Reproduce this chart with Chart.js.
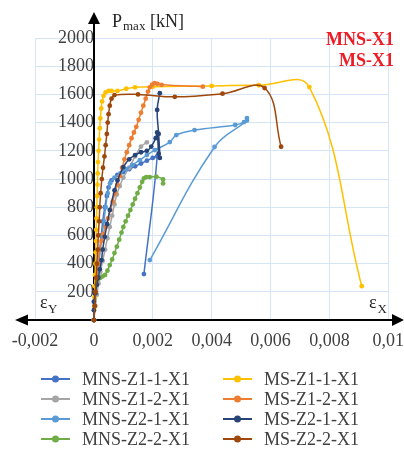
<!DOCTYPE html>
<html><head><meta charset="utf-8">
<script src="https://cdn.jsdelivr.net/npm/chart.js@4/dist/chart.umd.min.js"></script>
<style>html,body{margin:0;padding:0;background:#fff}canvas{display:block}</style>
</head><body>
<canvas id="c" width="404" height="449"></canvas>
<script>
// ---- data ----
const seriesNames = ['MNS-Z1-1-X1','MNS-Z1-2-X1','MNS-Z2-1-X1','MNS-Z2-2-X1','MS-Z1-1-X1','MS-Z1-2-X1','MS-Z2-1-X1','MS-Z2-2-X1'];

const mnsZ11X = [0,0.00003,0.00006,0.0001,0.00015,0.0002,0.00025,0.0003,0.00037,0.00044,0.0005,0.0006,0.0008,0.001,0.0012,0.0014,0.0016,0.0018,0.002,0.00215,0.0017];
const mnsZ11Y = [0,100,200,300,400,500,600,700,800,880,940,990,1030,1050,1070,1090,1110,1130,1150,1160,326];

const mnsZ12X = [0,0.00005,0.0001,0.00016,0.00022,0.0003,0.00038,0.00046,0.00054,0.00062,0.0007,0.00078,0.00088,0.001,0.0012,0.0014,0.0016,0.0018];
const mnsZ12Y = [0,100,180,260,340,420,500,580,660,740,820,890,950,1010,1080,1160,1230,1260];

const mnsZ21X = [0,0.00003,0.00007,0.00012,0.00017,0.00022,0.00028,0.00034,0.0004,0.00047,0.00055,0.0007,0.0009,0.0011,0.0013,0.00156,0.0018,0.00207,0.00258,0.0028,0.00342,0.0048,0.0051,0.0052,0.0052,0.0041,0.0019];
const mnsZ21Y = [0,100,200,300,400,500,600,700,800,900,970,1010,1040,1070,1100,1134,1170,1205,1262,1312,1347,1383,1404,1432,1415,1227,425];

const mnsZ22X = [0,0.00003,0.00006,0.0001,0.00016,0.00022,0.0003,0.00038,0.00046,0.00054,0.00062,0.0007,0.00078,0.00086,0.00094,0.001,0.00108,0.00116,0.00124,0.00132,0.0014,0.00148,0.00156,0.00164,0.0017,0.00178,0.0019,0.00212,0.00235,0.00235];
const mnsZ22Y = [0,100,200,280,295,300,310,320,350,390,430,475,520,570,620,660,700,740,780,820,860,900,940,980,1005,1014,1014,1016,998,969];

const msZ11X = [0,0.00001,0.00002,0.00003,0.00004,0.00005,0.00006,0.00007,0.00008,0.00009,0.0001,0.00011,0.00012,0.00013,0.00014,0.00016,0.00018,0.0002,0.00022,0.00025,0.00028,0.00033,0.0004,0.0005,0.0006,0.0008,0.0011,0.0014,0.002,0.004,0.0056,0.00732,0.0091];
const msZ11Y = [0,80,160,240,320,400,480,560,640,720,800,880,960,1040,1120,1200,1280,1360,1430,1500,1550,1590,1615,1625,1625,1625,1640,1650,1655,1660,1665,1652,240];

const msZ12X = [0,0.00003,0.00006,0.0001,0.00014,0.0002,0.00026,0.00032,0.0004,0.00048,0.00056,0.00064,0.00072,0.0008,0.00088,0.00096,0.00104,0.00112,0.0012,0.00128,0.00136,0.00144,0.00152,0.0016,0.00168,0.00176,0.00184,0.0019,0.00198,0.00206,0.00216,0.0023,0.0037];
const msZ12Y = [0,100,200,300,400,500,560,610,660,720,780,840,900,960,1020,1080,1140,1190,1240,1290,1330,1370,1420,1470,1520,1570,1620,1650,1670,1680,1675,1668,1655];

const msZ21X = [0,0,0,0.00005,0.0001,0.00015,0.0002,0.00026,0.0003,0.00037,0.00045,0.00054,0.0007,0.0008,0.001,0.0012,0.0014,0.0016,0.0018,0.00195,0.0021,0.00215,0.0022,0.00224,0.0022,0.00215,0.00224];
const msZ21Y = [0,70,130,190,250,300,360,425,500,590,680,780,920,990,1085,1140,1170,1190,1200,1230,1290,1330,1180,1150,1320,1490,1609];

const msZ22X = [0,0.00003,0.00005,0.00008,0.0001,0.00013,0.00015,0.00018,0.0002,0.00023,0.00027,0.00031,0.00036,0.0004,0.00044,0.00047,0.0005,0.00054,0.0006,0.0007,0.0015,0.00275,0.00437,0.0058,0.00636];
const msZ22Y = [0,100,200,300,400,500,600,700,800,900,1000,1080,1160,1240,1320,1400,1460,1520,1570,1595,1600,1583,1605,1645,1229];

const xTickValues = [-0.002,0,0.002,0.004,0.006,0.008,0.01];
const xTickLabels = ['-0,002','0','0,002','0,004','0,006','0,008','0,01'];
const yTickValues = [0,200,400,600,800,1000,1200,1400,1600,1800,2000];
const yTickLabels = ['','200','400','600','800','1000','1200','1400','1600','1800','2000'];

// ---- styles ----
const seriesColors = ['#4472C4','#A5A5A5','#5B9BD5','#70AD47','#FFC000','#ED7D31','#264478','#9E480E'];
const seriesX = [mnsZ11X,mnsZ12X,mnsZ21X,mnsZ22X,msZ11X,msZ12X,msZ21X,msZ22X];
const seriesY = [mnsZ11Y,mnsZ12Y,mnsZ21Y,mnsZ22Y,msZ11Y,msZ12Y,msZ21Y,msZ22Y];

const SERIF = "'Liberation Serif','Times New Roman',serif";
Chart.defaults.font.family = SERIF;
Chart.defaults.font.size = 18;
Chart.defaults.color = '#404040';

const datasets = seriesNames.map((name, i) => ({
  label: name,
  data: seriesX[i].map((x, k) => ({x: x, y: seriesY[i][k]})),
  borderColor: seriesColors[i],
  backgroundColor: seriesColors[i],
  borderWidth: 1.5,
  pointRadius: 2.4,
  pointBorderWidth: 0,
  pointHoverRadius: 2.4,
  showLine: true,
  tension: 0.4,
  clip: false,
  order: seriesNames.length - 1 - i
}));

const decor = {
  id: 'decor',
  beforeDatasetsDraw(chart) {
    const ctx = chart.ctx, xs = chart.scales.x, ys = chart.scales.y;
    const x0 = Math.round(xs.getPixelForValue(0)), y0 = Math.round(ys.getPixelForValue(0));
    ctx.save();
    ctx.strokeStyle = '#000'; ctx.fillStyle = '#000'; ctx.lineWidth = 2;
    ctx.beginPath(); ctx.moveTo(22, y0); ctx.lineTo(398, y0); ctx.stroke();
    ctx.beginPath(); ctx.moveTo(x0, y0); ctx.lineTo(x0, 20); ctx.stroke();
    ctx.beginPath(); ctx.moveTo(15, y0); ctx.lineTo(28, y0 - 5.5); ctx.lineTo(28, y0 + 5.5); ctx.closePath(); ctx.fill();
    ctx.beginPath(); ctx.moveTo(404, y0); ctx.lineTo(392, y0 - 6); ctx.lineTo(392, y0 + 6); ctx.closePath(); ctx.fill();
    ctx.beginPath(); ctx.moveTo(x0, 12); ctx.lineTo(x0 - 6, 24); ctx.lineTo(x0 + 6, 24); ctx.closePath(); ctx.fill();
    ctx.restore();
  },
  afterDraw(chart) {
    const ctx = chart.ctx;
    ctx.save();
    ctx.fillStyle = '#262626';
    ctx.textBaseline = 'alphabetic';
    ctx.textAlign = 'left';
    ctx.font = '18px ' + SERIF;
    ctx.fillText('P', 112, 27);
    ctx.font = '13px ' + SERIF;
    ctx.fillText('max', 123, 30);
    ctx.font = '18px ' + SERIF;
    ctx.fillText('[kN]', 150, 27);
    ctx.font = '18px ' + SERIF;
    ctx.fillText('\u03b5', 40, 308);
    ctx.fillText('\u03b5', 369, 308);
    ctx.font = '13px ' + SERIF;
    ctx.fillText('Y', 48, 313);
    ctx.fillText('X', 377.5, 313);
    ctx.fillStyle = '#EE1C25';
    ctx.font = 'bold 18px ' + SERIF;
    ctx.textAlign = 'right';
    ctx.fillText('MNS-X1', 394, 45);
    ctx.fillText('MS-X1', 394, 66);
    ctx.textAlign = 'left';
    ctx.textBaseline = 'middle';
    ctx.font = '18px ' + SERIF;
    chart.data.datasets.forEach((ds, i) => {
      const col = i < 4 ? 0 : 1, row = i % 4;
      const lx = col === 0 ? 41 : 223;
      const ly = 379 + row * 20;
      ctx.strokeStyle = ds.borderColor; ctx.lineWidth = 2;
      ctx.beginPath(); ctx.moveTo(lx, ly); ctx.lineTo(lx + 29, ly); ctx.stroke();
      ctx.fillStyle = ds.borderColor;
      ctx.beginPath(); ctx.arc(lx + 14.5, ly, 3.5, 0, Math.PI * 2); ctx.fill();
      ctx.fillStyle = '#404040';
      ctx.fillText(ds.label, lx + 41, ly + 1);
    });
    ctx.restore();
  }
};

new Chart(document.getElementById('c'), {
  type: 'scatter',
  data: { datasets },
  options: {
    responsive: false,
    animation: false,
    devicePixelRatio: 1,
    layout: { padding: { left: 35, right: 15, top: 38, bottom: 87 } },
    plugins: { legend: { display: false }, tooltip: { enabled: false } },
    scales: {
      x: {
        type: 'linear', position: 'bottom', min: -0.002, max: 0.01,
        afterBuildTicks: s => { s.ticks = xTickValues.map(v => ({value: v})); },
        ticks: { padding: 0, maxRotation: 0, autoSkip: false, font: { lineHeight: 2.33 },
          callback: v => { const k = xTickValues.findIndex(t => Math.abs(t - v) < 1e-9); return k >= 0 ? xTickLabels[k] : ''; } },
        grid: { color: '#D5E5F5', lineWidth: 1, drawTicks: false },
        border: { display: false }
      },
      y: {
        type: 'linear', position: { x: 0 }, min: 0, max: 2000,
        afterBuildTicks: s => { s.ticks = yTickValues.map(v => ({value: v})); },
        ticks: { padding: 11, autoSkip: false,
          callback: v => { const k = yTickValues.indexOf(v); return k >= 0 ? yTickLabels[k] : ''; } },
        grid: { color: '#D5E5F5', lineWidth: 1, drawTicks: false },
        border: { display: false }
      }
    }
  },
  plugins: [decor]
});
</script>
</body></html>
